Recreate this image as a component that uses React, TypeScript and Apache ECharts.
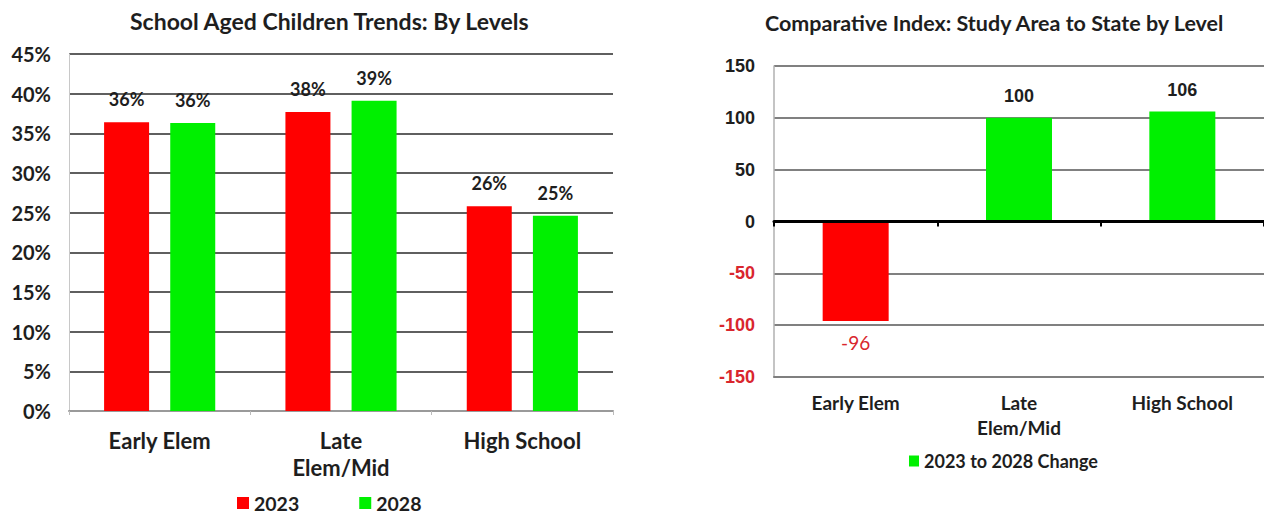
import React, { useEffect, useRef } from "react";
import * as echarts from "echarts";

const levels = ["Early Elem", "Late\nElem/Mid", "High School"];
const share2023 = [0.364, 0.377, 0.258];
const share2028 = [0.363, 0.391, 0.246];
const indexChange = [-96, 100, 106];

const RED = "#ff0000";
const GREEN = "#00f000";
const TXT = "#1e1e1e";
const NEG = "#d9262e";
const FONT = "Lato, 'Open Sans', sans-serif";
const ARIAL = "'Liberation Sans', Arial, sans-serif";

export default function App() {
  const ref = useRef<HTMLDivElement>(null);
  useEffect(() => {
    if (!ref.current) return;
    const chart = echarts.init(ref.current, null, { renderer: "svg" });
    const pctLabel = {
      show: true,
      position: "top",
      distance: 14,
      color: TXT,
      fontFamily: FONT,
      fontWeight: "bold",
      fontSize: 18,
      formatter: (p: any) => Math.round(p.value * 100) + "%",
    };
    chart.setOption({
      animation: false,
      textStyle: { fontFamily: FONT },
      title: [
        {
          text: "School Aged Children Trends: By Levels",
          left: 125,
          top: 4,
          textStyle: { fontFamily: FONT, fontWeight: "bold", fontSize: 23, color: TXT },
        },
        {
          text: "Comparative Index: Study Area to State by Level",
          left: 760,
          top: 7,
          textStyle: { fontFamily: FONT, fontWeight: "bold", fontSize: 21.5, color: TXT },
        },
      ],
      legend: [
        {
          data: ["2023", "2028"],
          left: 232,
          top: 488,
          icon: "rect",
          itemWidth: 12,
          itemHeight: 12,
          itemGap: 60,
          textStyle: { fontFamily: FONT, fontWeight: "bold", fontSize: 19.5, color: TXT },
        },
        {
          data: ["2023 to 2028 Change"],
          left: 904,
          top: 447,
          icon: "rect",
          itemWidth: 10,
          itemHeight: 11,
          itemGap: 6,
          textStyle: { fontFamily: FONT, fontWeight: "bold", fontSize: 18, color: TXT },
        },
      ],
      grid: [
        { left: 69, top: 54, width: 544, height: 357 },
        { left: 774, top: 66, width: 498, height: 311 },
      ],
      xAxis: [
        {
          gridIndex: 0,
          type: "category",
          data: levels,
          axisLine: { lineStyle: { color: "#9a9a9a", width: 2 } },
          axisTick: { show: true, length: 4, lineStyle: { color: "#bbbbbb" } },
          axisLabel: {
            margin: 16,
            color: TXT,
            fontFamily: FONT,
            fontWeight: "bold",
            fontSize: 22,
            lineHeight: 27,
          },
        },
        {
          gridIndex: 1,
          type: "category",
          data: levels,
          axisLine: { onZero: true, lineStyle: { color: "#000", width: 3 } },
          axisTick: { show: true, length: 5, inside: false, lineStyle: { color: "#000", width: 2 } },
          axisLabel: { show: false },
          z: 5,
        },
        {
          gridIndex: 1,
          type: "category",
          data: levels,
          position: "bottom",
          axisLine: { onZero: false, lineStyle: { color: "#7f7f7f", width: 2 } },
          axisTick: { show: false },
          axisLabel: {
            margin: 13,
            color: TXT,
            fontFamily: FONT,
            fontWeight: "bold",
            fontSize: 19,
            lineHeight: 25,
          },
        },
      ],
      yAxis: [
        {
          gridIndex: 0,
          type: "value",
          min: 0,
          max: 0.45,
          interval: 0.05,
          axisLine: { show: true, lineStyle: { color: "#c8c8c8", width: 1 } },
          axisTick: { show: false },
          splitLine: { lineStyle: { color: "#2a2a2a", width: 1.5 } },
          axisLabel: {
            margin: 18,
            color: TXT,
            fontFamily: FONT,
            fontWeight: "bold",
            fontSize: 20,
            formatter: (v: number) => Math.round(v * 100) + "%",
          },
        },
        {
          gridIndex: 1,
          type: "value",
          min: -150,
          max: 150,
          interval: 50,
          axisLine: { show: true, lineStyle: { color: "#b0b0b0", width: 1.5 } },
          axisTick: { show: false },
          splitLine: { lineStyle: { color: "#808080", width: 2 } },
          axisLabel: {
            margin: 19,
            fontFamily: ARIAL,
            fontWeight: "bold",
            fontSize: 18,
            formatter: (v: number) => (v < 0 ? "{neg|" + v + "}" : "{pos|" + v + "}"),
            rich: {
              neg: { color: NEG, fontFamily: ARIAL, fontWeight: "bold", fontSize: 18 },
              pos: { color: TXT, fontFamily: ARIAL, fontWeight: "bold", fontSize: 18 },
            },
          },
        },
      ],
      series: [
        {
          name: "2023",
          type: "bar",
          xAxisIndex: 0,
          yAxisIndex: 0,
          data: share2023,
          barWidth: 45,
          barGap: "47%",
          itemStyle: { color: RED },
          label: pctLabel,
        },
        {
          name: "2028",
          type: "bar",
          xAxisIndex: 0,
          yAxisIndex: 0,
          data: share2028,
          barWidth: 45,
          itemStyle: { color: GREEN },
          label: pctLabel,
        },
        {
          name: "2023 to 2028 Change",
          type: "bar",
          xAxisIndex: 1,
          yAxisIndex: 1,
          barWidth: 66,
          itemStyle: { color: GREEN },
          data: indexChange.map((v) =>
            v < 0
              ? {
                  value: v,
                  itemStyle: { color: RED },
                  label: {
                    show: true,
                    position: "bottom",
                    distance: 12,
                    color: NEG,
                    fontWeight: "normal",
                    fontSize: 19,
                    fontFamily: FONT,
                  },
                }
              : {
                  value: v,
                  label: {
                    show: true,
                    position: "top",
                    distance: 13,
                    color: TXT,
                    fontWeight: "bold",
                    fontSize: 18,
                    fontFamily: ARIAL,
                  },
                }
          ),
        },
      ],
    });
    return () => chart.dispose();
  }, []);
  return (
    <div
      ref={ref}
      style={{ position: "absolute", left: 0, top: 0, width: 1264, height: 519, background: "#fff" }}
    />
  );
}
